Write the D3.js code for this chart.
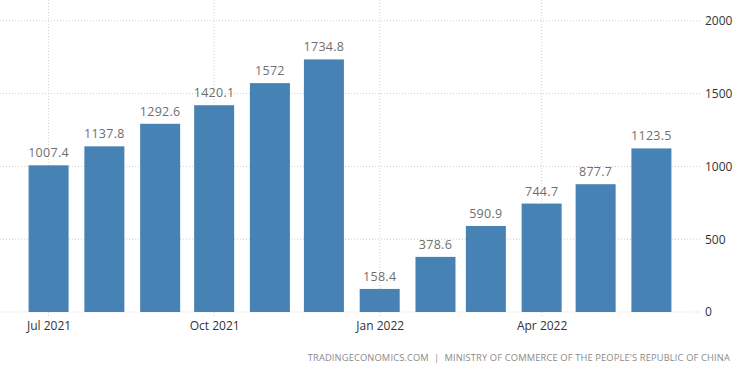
<!DOCTYPE html>
<html>
<head>
<meta charset="utf-8">
<script src="https://cdn.jsdelivr.net/npm/d3@7"></script>
<style>
  body { margin: 0; background: #fff; }
  text { font-family: "Open Sans", "Liberation Sans", sans-serif; }
</style>
</head>
<body>
<div id="chart"></div>
<script>
var months = ['2021-07-01', '2021-08-01', '2021-09-01', '2021-10-01', '2021-11-01', '2021-12-01',
              '2022-01-01', '2022-02-01', '2022-03-01', '2022-04-01', '2022-05-01', '2022-06-01'];
var values = [1007.4, 1137.8, 1292.6, 1420.1, 1572, 1734.8, 158.4, 378.6, 590.9, 744.7, 877.7, 1123.5];
var xTicks = ['2021-07-01', '2021-10-01', '2022-01-01', '2022-04-01'];
var yTicks = [0, 500, 1000, 1500, 2000];
var source = 'TRADINGECONOMICS.COM  |  MINISTRY OF COMMERCE OF THE PEOPLE\'S REPUBLIC OF CHINA';

var W = 750, H = 375;
var plotW = 700, baseY = 312, topY = 20.8;

var data = months.map((m, i) => ({date: new Date(m + 'T00:00:00Z'), value: values[i]}));

var xScale = d3.scaleUtc()
    .domain([new Date('2021-06-04T00:00:00Z'), new Date('2022-06-28T00:00:00Z')])
    .range([0, plotW]);
var yScale = d3.scaleLinear().domain([0, 2000]).range([baseY, topY]);

var svg = d3.select('#chart').append('svg')
    .attr('width', W)
    .attr('height', H);

// grid lines
svg.append('g').selectAll('line.hgrid')
    .data(yTicks)
    .join('line')
    .attr('x1', 0).attr('x2', plotW)
    .attr('y1', d => yScale(d)).attr('y2', d => yScale(d))
    .attr('stroke', '#d0d0d0')
    .attr('stroke-dasharray', '1,2');

svg.append('g').selectAll('line.vgrid')
    .data(xTicks)
    .join('line')
    .attr('x1', d => xScale(new Date(d + 'T00:00:00Z')))
    .attr('x2', d => xScale(new Date(d + 'T00:00:00Z')))
    .attr('y1', 0).attr('y2', baseY + 4)
    .attr('stroke', '#d0d0d0')
    .attr('stroke-dasharray', '1,2');

// bars
var barW = 40;
svg.append('g').selectAll('rect')
    .data(data)
    .join('rect')
    .attr('x', d => xScale(d.date) - barW / 2)
    .attr('y', d => yScale(d.value))
    .attr('width', barW)
    .attr('height', d => baseY - yScale(d.value))
    .attr('fill', '#4682b4');

// value labels
svg.append('g').selectAll('text')
    .data(data)
    .join('text')
    .attr('x', d => xScale(d.date))
    .attr('y', d => yScale(d.value) - 8)
    .attr('text-anchor', 'middle')
    .attr('font-size', 12.5)
    .attr('letter-spacing', 0.3)
    .attr('fill', '#6f6f6f')
    .text(d => d.value);

// x axis
var xAxis = d3.axisBottom(xScale)
    .tickValues(xTicks.map(d => new Date(d + 'T00:00:00Z')))
    .tickFormat(d3.utcFormat('%b %Y'))
    .tickSize(0)
    .tickPadding(9);
var gx = svg.append('g').attr('transform', 'translate(0,' + baseY + ')').call(xAxis);
gx.select('.domain').remove();
gx.selectAll('text')
    .attr('font-size', 12)
    .attr('fill', '#333')
    .style('font-family', '"Open Sans", "Liberation Sans", sans-serif');

// y axis
var yAxis = d3.axisRight(yScale).tickValues(yTicks).tickFormat(d3.format('d')).tickSize(0).tickPadding(5);
var gy = svg.append('g').attr('transform', 'translate(' + plotW + ',0)').call(yAxis);
gy.select('.domain').remove();
gy.selectAll('text')
    .attr('font-size', 12)
    .attr('fill', '#333')
    .style('font-family', '"Open Sans", "Liberation Sans", sans-serif');

// source
svg.append('text')
    .attr('x', 730)
    .attr('y', 361)
    .attr('text-anchor', 'end')
    .attr('font-size', 9.3)
    .attr('letter-spacing', 0.15)
    .attr('fill', '#8a8a8a')
    .style('white-space', 'pre')
    .text(source);
</script>
</body>
</html>
